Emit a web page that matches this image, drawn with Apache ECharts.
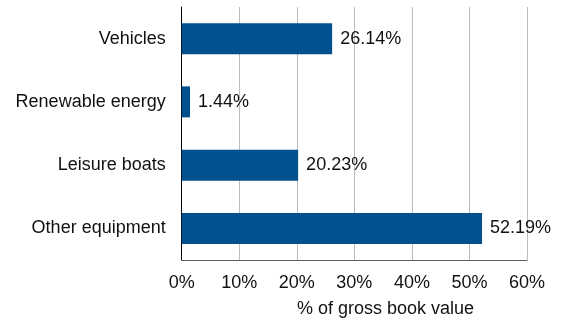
<!DOCTYPE html>
<html>
<head>
<meta charset="utf-8">
<script src="https://cdn.jsdelivr.net/npm/echarts@6/dist/echarts.min.js"></script>
<style>
  html, body { margin: 0; padding: 0; background: #fff; }
  #chart { width: 561px; height: 324px; }
</style>
</head>
<body>
<div id="chart"></div>
<script>
// Portfolio breakdown by asset type
const categories = ['Vehicles', 'Renewable energy', 'Leisure boats', 'Other equipment'];
const shares = [26.14, 1.44, 20.23, 52.19];
const axisTicks = [0, 10, 20, 30, 40, 50, 60];
const axisTitle = '% of gross book value';

const FONT = '"Liberation Sans", Arial, sans-serif';
const chart = echarts.init(document.getElementById('chart'), null, { renderer: 'canvas' });

chart.setOption({
  animation: false,
  grid: { left: 181.7, right: 34, top: 7, bottom: 64, containLabel: false },
  title: {
    text: axisTitle,
    left: 297,
    top: 300,
    padding: 0,
    textStyle: { fontFamily: FONT, fontSize: 18, fontWeight: 'normal', color: '#111' }
  },
  xAxis: {
    type: 'value',
    min: axisTicks[0],
    max: axisTicks[axisTicks.length - 1],
    interval: axisTicks[1] - axisTicks[0],
    axisLine: { show: true, lineStyle: { color: '#5f5f5f', width: 1 } },
    axisTick: { show: false },
    splitLine: { show: true, lineStyle: { color: '#bdbdbd', width: 1 } },
    axisLabel: {
      margin: 14,
      fontFamily: FONT, fontSize: 18, color: '#111',
      formatter: v => v + '%'
    }
  },
  yAxis: {
    type: 'category',
    data: categories,
    inverse: true,
    axisLine: { show: true, lineStyle: { color: '#000', width: 1 } },
    axisTick: { show: false },
    splitLine: { show: false },
    axisLabel: { margin: 16, fontFamily: FONT, fontSize: 18, color: '#111' }
  },
  series: [{
    type: 'bar',
    data: shares,
    barWidth: 31,
    itemStyle: { color: '#03508f' },
    label: {
      show: true,
      position: 'right',
      distance: 8,
      fontFamily: FONT, fontSize: 18, color: '#111',
      formatter: p => p.value.toFixed(2) + '%'
    }
  }]
});
</script>
</body>
</html>
